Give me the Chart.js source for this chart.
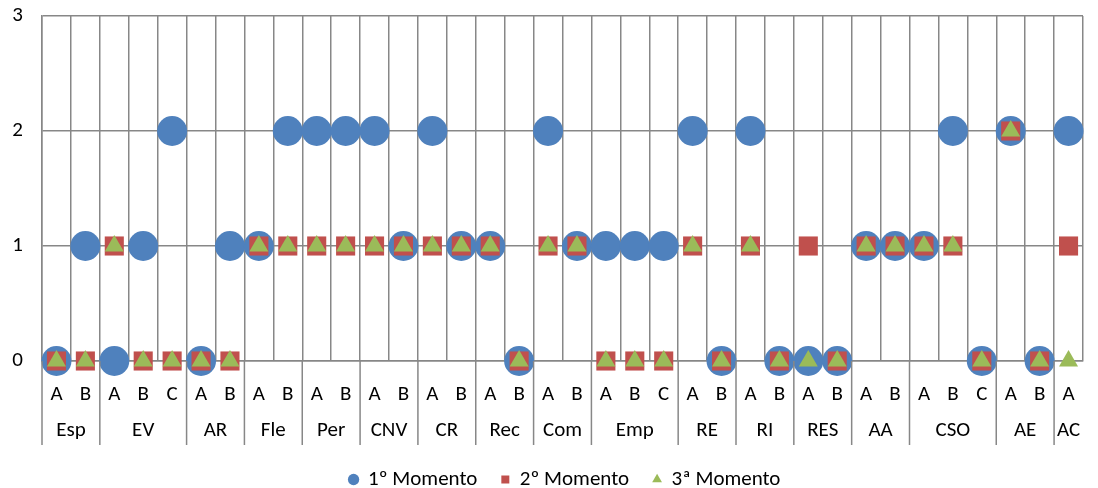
<!DOCTYPE html>
<html>
<head>
<meta charset="utf-8">
<script src="https://cdn.jsdelivr.net/npm/chart.js@4"></script>
<style>
  html, body { margin: 0; padding: 0; background: #fff; }
  #wrap { width: 1098px; height: 488px; }
</style>
</head>
<body>
<div id="wrap"><canvas id="chart" width="1098" height="488"></canvas></div>
<script>
// sub-category labels (one per column)
const subLabels = ['A','B', 'A','B','C', 'A','B', 'A','B', 'A','B', 'A','B', 'A','B', 'A','B',
                   'A','B', 'A','B','C', 'A','B', 'A','B', 'A','B', 'A','B', 'A','B','C', 'A','B', 'A'];
// group labels and how many columns each one spans
const groupNames = ['Esp','EV','AR','Fle','Per','CNV','CR','Rec','Com','Emp','RE','RI','RES','AA','CSO','AE','AC'];
const groupSizes = [2, 3, 2, 2, 2, 2, 2, 2, 2, 3, 2, 2, 2, 2, 3, 2, 1];

const momento1 = [0,1, 0,1,2, 0,1, 1,2, 2,2, 2,1, 2,1, 1,0, 2,1, 1,1,1, 2,0, 2,0, 0,0, 1,1, 1,2,0, 2,0, 2];
const momento2 = [0,0, 1,0,0, 0,0, 1,1, 1,1, 1,1, 1,1, 1,0, 1,1, 0,0,0, 1,0, 1,0, 1,0, 1,1, 1,1,0, 2,0, 1];
const momento3 = [0,0, 1,0,0, 0,0, 1,1, 1,1, 1,1, 1,1, 1,0, 1,1, 0,0,0, 1,0, 1,0, 0,0, 1,1, 1,1,0, 2,0, 0];

const FONT = 'Carlito, Calibri, Lato, sans-serif';
const FONT_SIZE = 21;
const GRID = '#878787';
const AXIS_H = 84;
const LEGEND_H = 43;
const LEGEND_SHIFT = 16;

// second row of x labels + separators between groups
const groupAxis = {
    id: 'groupAxis',
    beforeInit(chart) {
        // fixed legend strip, nudged a bit right like the original
        const legend = chart.legend;
        const fit = legend.fit;
        legend.fit = function () {
            fit.call(this);
            this.height = LEGEND_H;
        };
        const draw = legend.draw;
        legend.draw = function () {
            this.ctx.save();
            this.ctx.translate(LEGEND_SHIFT, 0);
            draw.call(this);
            this.ctx.restore();
        };
    },
    afterDraw(chart) {
        const ctx = chart.ctx;
        const x = chart.scales.x;
        const top = chart.chartArea.bottom;
        const bottom = top + AXIS_H;
        const colW = (x.right - x.left) / subLabels.length;
        ctx.save();
        ctx.strokeStyle = GRID;
        ctx.lineWidth = 1.5;
        ctx.fillStyle = '#000';
        ctx.font = FONT_SIZE + 'px ' + FONT;
        ctx.textAlign = 'center';
        ctx.textBaseline = 'middle';
        let start = 0;
        groupNames.forEach((name, i) => {
            const left = x.getPixelForValue(start) - colW / 2;
            const right = x.getPixelForValue(start + groupSizes[i] - 1) + colW / 2;
            ctx.beginPath();
            ctx.moveTo(left, top);
            ctx.lineTo(left, bottom);
            ctx.stroke();
            ctx.fillText(name, (left + right) / 2, top + 70);
            start += groupSizes[i];
        });
        ctx.restore();
    }
};

new Chart(document.getElementById('chart'), {
    type: 'line',
    data: {
        labels: subLabels,
        datasets: [{
            label: '1º Momento',
            data: momento1,
            pointStyle: 'circle',
            pointRadius: 15,
            pointHoverRadius: 15,
            backgroundColor: '#4F81BD',
            borderColor: '#4F81BD',
            pointBorderWidth: 0,
            showLine: false,
            clip: false,
            order: 3
        }, {
            label: '2º Momento',
            data: momento2,
            pointStyle: 'rect',
            pointRadius: 13.5,
            pointHoverRadius: 13.5,
            backgroundColor: '#C0504D',
            borderColor: '#C0504D',
            pointBorderWidth: 0,
            showLine: false,
            clip: false,
            order: 2
        }, {
            label: '3ª Momento',
            data: momento3,
            pointStyle: 'triangle',
            pointRadius: 11,
            pointHoverRadius: 11,
            backgroundColor: '#9BBB59',
            borderColor: '#9BBB59',
            pointBorderWidth: 0,
            showLine: false,
            clip: false,
            order: 1
        }]
    },
    options: {
        responsive: false,
        animation: false,
        layout: { padding: 0 },
        plugins: {
            tooltip: { enabled: false },
            legend: {
                position: 'bottom',
                labels: {
                    usePointStyle: true,
                    boxWidth: 8,
                    boxHeight: 8,
                    padding: 24,
                    color: '#000',
                    font: { family: FONT, size: FONT_SIZE },
                    sort: (a, b) => a.datasetIndex - b.datasetIndex
                }
            }
        },
        scales: {
            x: {
                offset: true,
                grid: { offset: true, color: GRID, lineWidth: 1.5, drawTicks: false },
                border: { color: GRID, width: 1.5 },
                ticks: {
                    color: '#000',
                    font: { family: FONT, size: FONT_SIZE },
                    padding: 21,
                    autoSkip: false,
                    maxRotation: 0
                },
                afterFit: s => { s.height = AXIS_H; }
            },
            y: {
                min: 0,
                max: 3,
                ticks: {
                    stepSize: 1,
                    color: '#000',
                    font: { family: FONT, size: FONT_SIZE },
                    padding: 19
                },
                grid: { color: GRID, lineWidth: 1.5, drawTicks: false },
                border: { color: GRID, width: 1.5 },
                afterFit: s => {
                    s.width = 42;
                    s.paddingTop = 16;
                    s.paddingBottom = 0;
                }
            }
        }
    },
    plugins: [groupAxis]
});
</script>
</body>
</html>
